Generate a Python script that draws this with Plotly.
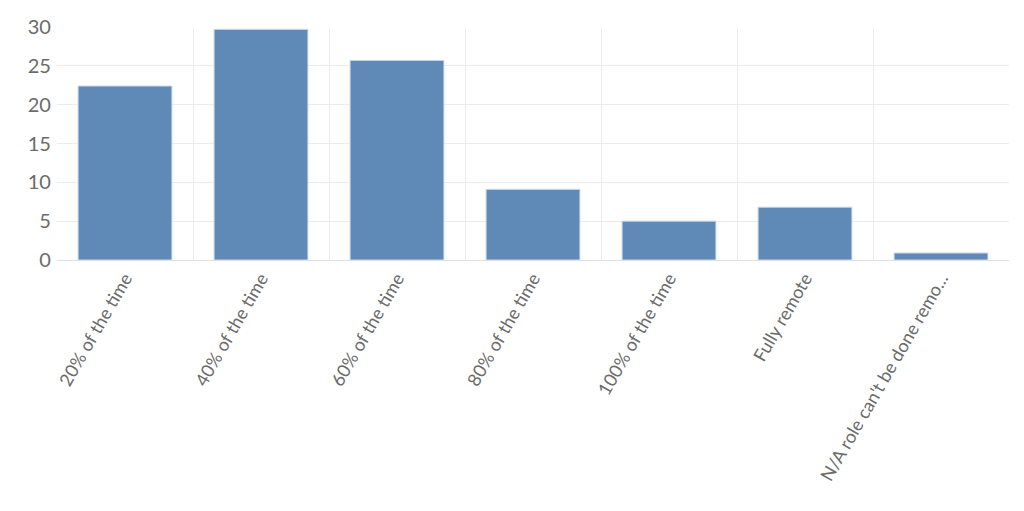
import plotly.graph_objects as go

categories = [
    "20% of the time",
    "40% of the time",
    "60% of the time",
    "80% of the time",
    "100% of the time",
    "Fully remote",
    "N/A role can't be done remo...",
]
values = [22.4, 29.7, 25.7, 9.1, 5.0, 6.8, 0.9]

fig = go.Figure()
fig.add_trace(go.Bar(
    x=categories,
    y=values,
    marker=dict(color="#5f8ab8", line=dict(color="#c9d7e8", width=1)),
))

# page body adds an 8px offset, so the figure is sized to fit inside it
fig.update_layout(
    width=1016,
    height=503,
    margin=dict(l=49, r=15, t=19, b=251),
    plot_bgcolor="white",
    paper_bgcolor="white",
    bargap=0.31,
    showlegend=False,
    font=dict(family="Lato", color="#6b6b6b", size=18),
)
fig.update_xaxes(
    tickangle=-60,
    tickson="boundaries",
    showgrid=True,
    gridcolor="#ececec",
    showline=True,
    linecolor="#e0e0e0",
    ticks="",
    tickfont=dict(size=18),
    automargin=False,
)
fig.update_yaxes(
    range=[0, 30],
    dtick=5,
    gridcolor="#ececec",
    zeroline=False,
    tickfont=dict(size=20),
    ticksuffix=" ",
    automargin=False,
)

fig.write_html("out.html")
